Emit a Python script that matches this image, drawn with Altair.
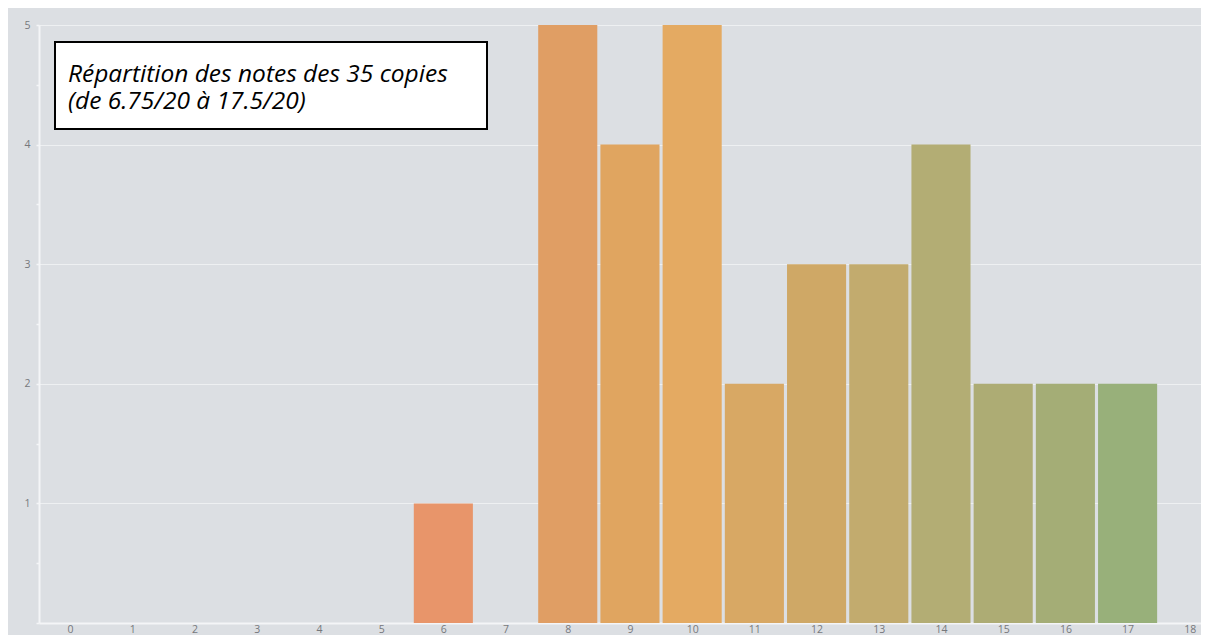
import altair as alt
import pandas as pd

# ---- data ----
notes = [6, 8, 9, 10, 11, 12, 13, 14, 15, 16, 17]
counts = [1, 5, 4, 5, 2, 3, 3, 4, 2, 2, 2]
bar_colors = ["#e8956a", "#e09e64", "#e0a560", "#e4aa62", "#d8a864", "#cfa866",
              "#c2ab6e", "#b3ad74", "#adac74", "#a4ad76", "#98b07a"]
x_ticks = list(range(0, 19))
y_ticks = [0, 0.5, 1, 1.5, 2, 2.5, 3, 3.5, 4, 4.5, 5]
caption = ["Répartition des notes des 35 copies", "(de 6.75/20 à 17.5/20)"]

BG = "#dcdfe3"
LABEL = "#76787c"

df = pd.DataFrame({"note": notes, "count": counts, "key": [str(n) for n in notes]})

bars = alt.Chart(df).transform_calculate(
    x0="datum.note - 0.475", x1="datum.note + 0.475"
).mark_bar(opacity=1).encode(
    x=alt.X("x0:Q",
            scale=alt.Scale(domain=[-0.5, 18.18], nice=False, zero=False),
            axis=alt.Axis(values=x_ticks, format="d", title=None, grid=False,
                          ticks=False, domainColor="#f4f5f7", domainWidth=2,
                          labelColor=LABEL, labelFontSize=10.5, labelPadding=1,
                          labelFont="Open Sans", labelFlush=False)),
    x2="x1:Q",
    y=alt.Y("count:Q",
            scale=alt.Scale(domain=[0, 5], nice=False),
            axis=alt.Axis(values=y_ticks, title=None,
                          labelExpr="(datum.value % 1 == 0 && datum.value > 0) ? format(datum.value, 'd') : ''",
                          grid=True, gridColor="#eef0f2", gridWidth=1.2,
                          gridOpacity={"condition": {"test": "datum.value % 1 != 0 || datum.value == 0", "value": 0}, "value": 1},
                          tickColor="#f4f5f7", tickSize=3, tickWidth=1.5,
                          domainColor="#f4f5f7", domainWidth=2,
                          labelColor=LABEL, labelFontSize=10.5, labelPadding=6,
                          labelFont="Open Sans")),
    y2=alt.datum(0),
    color=alt.Color("key:N", scale=alt.Scale(domain=[str(n) for n in notes], range=bar_colors), legend=None),
)

one = pd.DataFrame({"a": [0]})

box = alt.Chart(one).mark_rect(fill="white", stroke="black", strokeWidth=2).encode(
    x=alt.value(16), x2=alt.value(448), y=alt.value(17), y2=alt.value(104)
)

caption_text = alt.Chart(one).mark_text(align="left", baseline="alphabetic", font="Open Sans",
                                        fontStyle="italic", fontSize=24.5, color="black",
                                        text=caption, lineHeight=26.5).encode(
    x=alt.value(29), y=alt.value(57)
)

chart = alt.layer(bars, box, caption_text).properties(
    width=1162, height=598,
    autosize=alt.AutoSizeParams(type="none"),
    padding={"left": 31, "top": 17, "right": 0, "bottom": 12},
    background=BG,
).configure_view(stroke=None, fill=BG)

chart.save("out.html", embed_options={"renderer": "svg", "actions": False})
